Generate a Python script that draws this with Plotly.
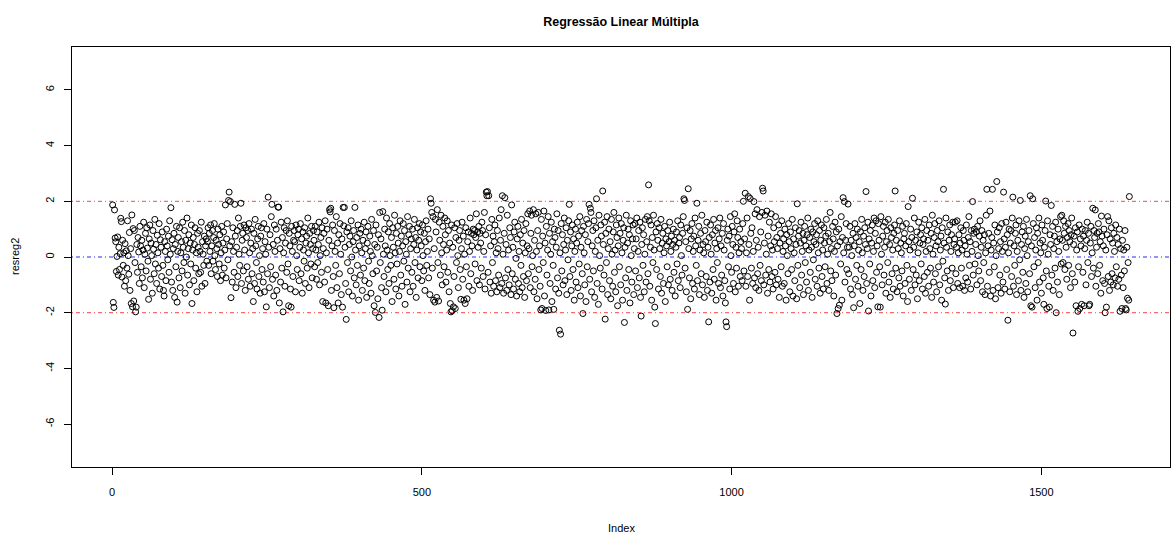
import plotly.graph_objects as go

# Residuos do modelo de regressao linear multipla (resreg2), por indice de observacao
resreg2_a = [
    1.87, -1.63, -1.81, 1.69, 0.68, 0.55, -0.52, 0.02, 0.72, -0.65, 0.35, -0.45, 0.12, 1.39, 1.27, -0.72, 0.60, -0.30, 0.15, -1.05,
    0.48, -0.85, 0.22, -0.40, 1.30, 0.05, -0.62, 0.88, -1.20, 0.30, -1.67, 1.51, -1.79, 1.02, -1.58, 0.95, -0.20, -1.97, -1.80, 0.45,
    -0.55, 0.70, 0.18, -0.95, 1.10, 0.40, -0.35, 0.60, -0.75, 0.25, 1.25, -1.10, 0.10, 0.85, -0.50, 1.05, 0.32, -0.15, -1.52, 0.65,
    1.15, -0.80, 0.50, 0.05, -1.30, 0.95, 0.28, -0.60, 1.35, -0.25, 0.45, -0.95, 0.78, 0.15, -0.40, 1.20, -1.15, 0.62, 0.35, -0.70,
    0.90, -0.30, -1.20, -1.40, 0.55, 0.20, -0.85, 1.00, 0.40, -0.10, 0.75, -0.55, 1.30, 0.10, 1.77, -0.90, 0.62, -1.20, 0.30, 0.85,
    -1.45, 0.45, -0.35, 1.10, -1.62, 0.20, 0.70, -0.75, 1.05, -1.10, 0.15, 0.55, -0.50, 1.25, 0.35, -0.20, 0.95, -1.30, 0.60, 0.00,
    1.40, -0.65, 0.30, 0.80, -1.00, 0.50, -0.25, 1.15, -1.67, 0.25, 0.70, -0.85, 0.45, 1.05, -0.40, 0.15, -1.25, 0.85, 0.35, -0.60,
    0.95, 0.20, -0.55, 1.25, -1.05, 0.55, 0.10, -0.30, 0.75, -0.95, 0.40, 0.65, -0.15,
]
resreg2_b = [
    0.55, 1.05, -0.30, 0.85, 0.20, 1.15, -0.60, 0.40, 0.95, -0.15, 0.70, 1.20, 0.05, -0.45, 0.60, 0.30, -0.70, 1.00, 0.45, -0.25,
    0.80, -0.85, 0.15, 1.10, -0.65, 0.50, 0.90, -0.40, 0.25, 1.87, -0.75, 0.65, 1.20, -0.10, 2.03, 2.33, 0.40, 1.99, -1.46, 0.55,
    -0.90, 1.05, 0.20, -0.55, 1.89, 0.75, -1.10, 0.35, 0.95, -0.70, 1.40, 0.10, -0.30, 1.10, 1.93, -0.95, 0.60, 0.85, -0.50, 1.15,
    0.25, -1.20, 1.05, 0.70, -0.35, 0.95, -0.80, 1.20, 0.15, -1.05, 0.50, 1.00, -0.60, 0.30, -1.60, 0.85, -0.95, 1.35, 0.40, -0.20,
    -1.15, 0.65, 1.10, -0.70, 0.05, -1.30, 0.75, 1.05, -0.45, 0.30, -0.90, 1.20, -1.25, 0.55, 0.10, -1.79, 1.00, -0.60, 2.15, 0.35,
    -1.10, 0.80, -0.35, 1.45, 1.89, -0.80, 0.45, -1.40, 1.15, 0.20, -0.65, 1.00, -1.20, 0.60, 1.79, 1.79, -1.65, 0.30, -0.90, 1.25,
    -0.40, 0.70, -1.97, 0.15, 1.05, -1.05, 0.50, 0.95, -0.55, 1.30, -0.25, -1.75, 0.85, 0.40, -1.15, -1.80, 1.10, 0.20, -0.70, 0.60,
    0.95, 0.55, -1.25, 1.15, 0.05, -0.45, 0.80, 1.00, -0.85, 0.35, 1.20, -0.60, 0.65, -1.30, 0.90, 0.25, -0.15, 1.05, -0.95, 0.50,
    0.75, -0.40, 1.40, 0.15, -1.10, 0.85, 0.45, -0.25, 1.10, -0.75, 0.30, 0.95,
]
resreg2_c = [
    0.60, -0.35, 1.10, 0.25, -0.80, 0.90, -0.20, 0.45, 1.25, -1.00, 0.05, 0.70, -0.55, 1.05, -1.60, 0.30, 0.85, -0.90, 1.30, -1.65,
    0.15, 1.00, -0.45, -1.75, 0.60, 1.70, 1.62, 1.75, -1.20, 0.40, 1.15, -0.70, -1.82, 0.95, 0.20, -0.30, 1.45, -1.10, 0.50, -1.65,
    0.80, -0.60, 1.20, 0.10, -1.35, 0.65, -1.80, 1.78, 1.12, 1.78, 0.35, -0.95, -2.24, 0.90, -0.20, 1.05, -1.25, 0.45, 0.75, -0.50,
    1.30, 0.00, -1.40, 0.55, 0.95, -0.75, 1.78, 0.25, -1.00, 0.70, -0.30, 1.15, -1.55, 0.40, 0.85, -0.65, 1.00, 0.15, -1.20, 0.60,
    -0.40, 1.25, -0.85, 0.30, 0.90, -1.45, 0.50, 1.10, -0.15, -0.95, 0.75, 0.20, -1.30, 1.35, 0.05, -0.60, 0.95, -1.75, 0.45, -1.99,
    1.15, -0.50, 0.35, -1.50, 0.80, -2.17, 1.60, -0.20, 0.65, -1.10, -1.91, 1.63, 0.10, -0.70, 1.00, 0.40, -1.25, 1.40, 0.25, -0.45,
    0.90, -0.95, 1.20, 0.05, -0.30, 0.70, -1.60, 1.05, 0.35, -0.80, 1.50, 0.15, -1.15, 0.85, -0.25, 1.10, 0.50, -1.40, 0.20, 1.30,
    -0.65, 0.75, -1.05, 0.40, 1.20, -0.15, 0.95, -1.70, 0.55, 0.10, -0.90, 1.45, -0.40, 0.80, 1.10, -1.25, 0.30, 0.65, -0.55, 1.00,
    -1.05, 0.45, 1.35, -0.20, 0.70, -1.45, 0.25, 1.05, -0.75, 0.60, 1.20, -0.35, 0.90,
]
resreg2_d = [
    0.40, -0.85, 1.15, 0.05, -0.50, 0.85, -1.20, 0.55, 1.30, -0.30, 0.20, 1.00, -0.75, 0.65, -1.35, 2.09, 1.93, 1.60, -0.40, 1.45,
    -1.55, 0.30, -1.62, 1.35, 0.90, -1.45, 1.70, -0.20, -1.58, 1.25, 0.60, -0.65, 1.50, 0.15, -1.00, 1.10, 0.45, -0.35, 1.40, 0.80,
    -0.90, 0.25, 1.30, -0.55, 0.95, -1.25, 0.50, -1.67, -1.97, 1.15, -1.93, 0.35, -1.79, -0.70, 1.05, -1.85, 0.70, -0.20, 1.20, 0.05,
    -1.10, 0.60, 0.95, -0.45, -1.52, 0.30, 1.25, -0.80, 0.75, -1.55, 0.10, -1.67, 1.05, -0.35, -1.50, 0.55, 0.90, -1.05, 0.20, 1.40,
    -0.60, 0.85, 0.40, -1.20, 1.00, 0.80, 0.95, -0.25, 0.70, 1.55, -0.85, 0.90, 0.35, 1.10, -1.00, 0.85, 0.50, -0.40, 1.25, 0.95,
    -0.70, 0.20, 1.60, -1.15, 0.80, 2.33, 2.20, 2.35, -0.55, 2.20, 1.05, -0.90, 0.40, -1.30, 1.35, -0.20, 0.75, -1.05, 0.55, 1.15,
    -0.85, 0.15, -1.25, 0.95, 0.30, -0.65, 1.40, -1.10, 0.60, 1.70, -0.95, 2.20, 0.10, -1.30, 0.85, 2.13, -0.75, 0.45, -1.20, 1.50,
    -0.45, 0.25, -1.00, 1.05, 0.70, -1.35, 1.87, -0.60, 0.35, -1.15, 0.90, 1.25, -0.80, -0.05, -1.40, 0.65, 1.10, -0.95, 0.20, -1.25,
    0.80, -0.30, 1.35, -1.10, 0.50, -0.70, 0.95, -1.45, 0.15, 1.20, -0.85, 0.40,
]
resreg2_e = [
    1.55, -0.60, 0.30, 1.65, -1.10, 0.85, 1.50, -0.35, 0.05, 1.70, -1.25, 0.60, -0.80, 1.55, 0.20, -1.50, 0.95, 1.60, -0.45, 0.40,
    -1.05, -1.90, 1.35, -1.85, 0.75, -0.20, 1.65, -1.40, 0.50, -1.92, 1.10, -0.65, 0.25, 1.45, -1.90, 0.85, -0.95, 0.10, 1.25, -1.60,
    0.55, -0.30, -1.88, 1.00, 0.70, -1.15, 0.35, 1.55, -0.75, 0.95, -1.30, -2.63, 0.15, -2.77, 1.20, -0.50, 0.80, -1.00, 0.45, 1.40,
    -0.85, 0.25, 1.05, -1.35, 0.60, -0.10, 1.30, 1.89, -0.70, 0.90, -1.20, 0.40, 1.15, -0.45, 0.65, -1.55, 0.20, 1.00, -0.90, 0.50,
    1.25, -1.10, 0.75, -0.25, 1.45, -1.40, 0.35, 0.95, -0.60, -2.03, 1.10, 0.15, -1.00, 0.80, -1.60, 1.35, -0.35, 0.55, 1.20, 1.89,
    -0.80, 1.75, 1.60, -1.25, 0.40, 0.95, -0.50, 1.30, -1.45, 0.20, 1.05, 2.09, -0.95, 0.60, -1.70, 1.50, 0.05, -0.40, 1.15, 0.75,
    -1.15, 2.37, 0.45, -0.65, 1.25, -2.23, 0.85, -0.20, 1.45, -1.35, 0.30, 1.00, -0.85, 0.55, -1.50, 1.35, 0.10, -1.05, 0.90, 1.60,
    -0.55, 0.25, -1.25, 1.15, 0.70, -1.75, 0.40, 1.40, -0.35, 0.85, -1.00, 1.20, 0.15, -1.55, 0.60, 1.05, -2.35, 0.35, -0.75, 1.50,
    -1.20, 0.50, 1.00, -0.45, 0.80, -1.65, 1.30, 0.05, -0.90, 0.65, 1.15, -1.35, 0.30,
]
resreg2_f = [
    1.20, -0.50, 0.65, 1.40, -1.10, 0.20, 0.95, -0.75, 1.25, -1.45, -2.12, 0.45, 1.05, -0.30, 0.80, -1.25, 0.10, 1.35, -0.90, 0.55,
    1.45, -0.60, 2.59, 1.30, -1.05, 0.35, 1.15, -1.55, 0.70, -0.20, 1.50, 0.25, -1.80, -2.39, 0.90, -0.45, 1.20, 0.60, -1.15, 1.05,
    0.30, -0.70, 1.35, -1.30, 0.50, 0.85, -0.95, 0.15, 1.10, -1.60, 0.65, 0.40, -0.35, 0.95, -1.00, 0.55, 1.25, -0.80, 0.20, 0.75,
    -1.20, 0.45, 1.00, -0.55, 0.60, -1.40, 0.35, 0.90, -0.25, 1.30, -0.85, 0.50, 0.70, -1.10, 1.15, 0.05, -0.65, 0.85, 1.45, 2.09,
    2.03, -0.40, 0.55, -1.25, 1.05, -1.88, 2.45, 0.30, -0.75, 0.95, -1.50, 0.65, 1.20, -0.95, 0.20, 0.75, -1.15, 1.40, 0.40, -0.30,
    1.93, -0.85, 0.60, 1.10, -1.35, 0.25, 0.85, -0.60, 1.50, -1.00, 0.45, 0.15, -1.45, 0.95, 0.55, -0.70, 1.25, -1.20, 0.35, -2.33,
    0.70, -0.90, 1.15, 0.10, -1.30, 0.80, -0.45, 1.35, -0.80, 0.50, 0.95, -1.55, 0.30, -0.20, 1.05, -0.95, 0.65, 1.40, -1.10, 0.40,
    -0.65, 0.85, -1.40, 1.20, 0.25, -0.85, -1.65, -2.33, -2.50, 0.60, 1.00, -0.35, 0.75, -1.15, 1.45, 0.05, -0.55, 1.10, 0.45, -0.95,
    0.90, 1.55, -1.25, 0.35, -0.40, 1.30, 0.70, -1.05, 0.15, 1.00, -0.70, 0.55,
]
resreg2_g = [
    0.30, -0.85, 1.20, 2.00, -0.50, 0.65, 2.29, -1.05, 0.15, 1.40, -0.70, 2.17, 0.45, -1.55, 2.10, 0.85, -0.40, 1.05, -0.95, 0.20,
    1.99, -0.75, 1.55, -1.10, 0.60, 1.70, -0.60, 0.35, -1.20, 1.45, -0.30, 0.90, -0.85, 1.60, 2.47, 2.37, -1.00, 0.50, 1.50, -0.65,
    0.10, 1.65, -1.30, 0.75, -0.45, 1.25, -0.90, 0.40, 1.55, -0.70, 0.25, -1.15, 1.05, 0.55, -0.55, 1.45, -1.00, 0.70, 0.30, -0.80,
    1.15, -1.45, 0.50, 0.85, -0.35, 1.30, -1.05, 0.20, 0.65, -0.95, 1.00, 0.40, -1.55, 0.80, 0.05, -0.60, 1.20, 0.55, -1.25, 0.90,
    0.30, -0.45, 1.35, -1.40, 0.65, 0.15, -0.85, 1.05, 0.45, -1.50, 1.91, -0.30, 0.75, 0.95, -1.10, 0.50, 1.25, -0.65, 0.20, 0.85,
    -1.35, 0.60, 1.10, -0.20, 0.40, -0.90, 0.80, 1.40, -1.20, 0.25, 0.70, -0.55, 1.00, 0.35, -1.45, 0.90, -0.10, 0.55, 1.20, -0.80,
    0.45, 0.80, -1.05, 1.30, 0.15, -0.40, 0.95, -1.30, 0.60, 1.15, -0.70, 0.25, -1.15, 1.05, 0.50, -0.35, 0.75, 1.35, -0.95, 0.10,
    0.85, -1.20, 0.55, 1.60, -0.50, 0.30, -0.85, 1.10, 0.65, -1.40, 0.20, 1.25, -0.65, 0.90, -2.03, 0.40, -1.85, 1.00, -1.73, 0.55,
    -0.25, 1.45, -1.55, 0.70, 2.13, 0.15, 1.99, -0.90, 0.60, 1.20, -0.45, 0.35,
]
resreg2_h = [
    1.90, -0.60, 0.35, 1.10, -1.15, 0.60, 0.05, -1.35, 0.85, -1.82, 0.40, 1.20, -0.80, 0.70, -0.30, 1.00, -1.05, 0.25, 0.55, -1.67,
    0.90, -0.45, 1.35, 0.15, -1.20, 0.75, -0.70, 1.05, 0.45, 2.35, -0.95, 0.30, 1.25, -1.94, 0.65, -0.25, 0.95, -1.40, 0.50, 1.15,
    -0.85, 0.20, 1.40, -1.10, 0.85, 1.30, -0.55, 0.40, -1.79, 1.20, 0.60, -0.35, -1.80, 1.45, 0.10, -1.00, 0.75, 1.10, -0.65, 0.35,
    1.25, -1.30, 0.55, 0.95, -0.20, 1.35, -0.90, 0.45, -1.45, 1.05, 0.70, -0.60, 0.25, -1.15, 0.85, 1.15, 2.37, -0.40, 0.60, -1.25,
    0.95, 0.30, -0.75, 1.30, -1.05, 0.50, 0.15, -0.50, 1.10, -1.40, 0.65, 0.85, -0.95, 0.40, 1.20, -0.30, -1.60, 1.81, 0.55, -0.80,
    0.25, 1.00, -1.20, 0.70, 2.11, -0.45, 0.35, 1.40, -1.00, 0.60, -0.65, 0.90, -1.50, 0.15, 1.25, -0.85, 0.50, 0.80, -0.25, 1.05,
    -1.15, 0.45, 0.65, -0.70, 1.35, -1.30, 0.20, 0.95, -0.55, 0.60, -1.05, 1.15, 0.30, -0.40, 0.85, -1.45, 1.50, 0.10, -0.90, 0.70,
    1.20, -0.60, 0.40, -1.25, 0.95, 0.55, -0.35, 1.30, -1.00, 0.25, 0.75, -1.55, 1.05, -0.15, 2.43, 0.50, -0.75, -1.69, 1.40, 0.35,
    -0.50, 0.90, -1.20, 0.60, 1.15, -0.85, 0.20, 0.80, -0.40, 1.25, -1.10, 0.45, 0.65,
]
resreg2_i = [
    1.25, -0.60, 0.35, 1.30, -0.95, 0.15, 0.80, -1.10, 0.50, 1.05, -0.40, 0.25, -1.05, 0.95, 0.60, -1.20, 0.40, -0.75, 1.15, 0.10,
    -0.90, 0.70, 1.45, -0.30, 0.55, -1.15, 0.95, 0.20, 1.99, -0.65, 0.85, 1.00, -0.25, 0.45, 0.90, -1.00, 1.10, 0.05, -0.50, 0.75,
    1.30, -0.85, 0.35, 0.95, -1.25, 0.60, -0.20, 0.80, -1.35, 0.15, 1.50, 2.43, -1.05, 0.40, 0.85, -0.55, 1.65, -1.40, 0.25, 0.70,
    2.43, -1.20, 0.50, -0.35, 1.15, -1.50, 0.05, 2.71, 0.90, -1.10, 0.30, 1.05, -0.65, 0.55, -1.30, 1.20, 0.20, -0.90, 2.33, 0.65,
    -1.15, 0.35, 1.25, -0.45, 0.80, -2.27, 0.15, 1.00, -1.25, 0.50, 0.95, -0.70, 1.40, 2.15, -1.05, 0.40, -0.30, 0.85, 1.15, -1.35,
    0.20, 0.60, -0.85, 1.30, -0.10, 2.03, -1.20, 0.45, 0.90, -0.55, 1.10, -1.45, 0.30, 0.75, -0.95, 1.35, 0.05, -1.25, 0.55, 0.95,
    -0.60, 2.20, -1.75, 0.40, -1.80, 2.09, 1.20, -0.35, 0.70, -1.10, 0.25, 1.05, -1.55, 0.85, -0.20, 1.40, -0.90, 0.50, 0.15, -1.30,
    1.15, 0.60, -0.75, -1.70, 0.35, 0.95, 2.01, -0.50, -1.85, 1.30, 0.10, -1.05, -1.80, 0.80, 0.45, 1.85, -0.65, 1.10, -1.20, 0.30,
    0.75, -0.40, 1.25, -2.00, 0.55, -0.90, 1.00, 0.20, -1.35, 0.65, 1.45, -0.25,
]
resreg2_j = [
    1.50, 0.60, -0.20, 1.30, 0.85, -0.45, 1.10, 0.35, -0.80, 0.70, 1.20, -0.30, 0.95, 0.55, -1.10, 0.80, 1.40, -0.60, -2.73, 0.45,
    0.75, -0.90, 1.05, -1.75, 0.25, 0.90, -1.95, -0.35, 1.15, -1.85, 0.65, 0.40, -1.70, 1.00, -0.55, 0.75, -1.75, 0.30, 0.95, -1.00,
    0.60, 1.25, -0.20, 0.85, -1.75, -1.70, 0.50, 1.10, -0.70, 0.15, 1.75, -0.40, 0.95, 0.70, 1.69, -1.05, 0.35, 0.85, -0.60, 1.20,
    0.90, -0.30, 0.55, -1.30, 1.47, 0.75, -0.85, 0.40, 1.00, -0.95, -2.00, 0.25, -1.80, 0.80, 1.45, -0.70, 1.30, -1.20, 0.65, -0.90,
    1.05, -0.60, 0.50, -1.00, 0.85, 0.20, -0.75, 1.15, -0.35, 0.70, -1.05, 0.45, -0.80, 1.00, -1.95, 0.30, -0.65, -1.85, 0.60, -1.10,
    0.25, -0.50, 0.95, -1.85, -1.90, 0.35, -1.48, -0.20, -1.55, 2.17,
]

resreg2 = (resreg2_a + resreg2_b + resreg2_c + resreg2_d + resreg2_e
           + resreg2_f + resreg2_g + resreg2_h + resreg2_i + resreg2_j)
index = list(range(1, len(resreg2) + 1))

x_ticks = [0, 500, 1000, 1500]
y_ticks = [-6, -4, -2, 0, 2, 4, 6]
limite = 2  # faixa de +/- 2 residuos padronizados

# eixo x com folga de 4% (como no R)
n = len(resreg2)
pad_x = 0.04 * (n - 1)
x_range = [1 - pad_x, n + pad_x]
y_range = [-7.54, 7.54]

FONT = "Liberation Sans, Arial, Helvetica, sans-serif"
TXT = dict(family=FONT, size=11, color="black")

fig = go.Figure()
fig.add_trace(go.Scatter(
    x=index, y=resreg2, mode="markers",
    marker=dict(symbol="circle-open", size=6, color="black", line=dict(width=1, color="black")),
    showlegend=False, hoverinfo="x+y",
))

dotdash = "1px,3px,4px,3px"
for yv, col in [(limite, "rgb(255,70,70)"), (-limite, "rgb(255,70,70)"), (0, "rgb(40,40,255)")]:
    fig.add_shape(type="line", xref="paper", x0=0, x1=1, yref="y", y0=yv, y1=yv,
                  line=dict(color=col, width=1, dash=dotdash), layer="below")

fig.update_layout(
    width=1171, height=541, autosize=False,
    margin=dict(l=72, r=1, t=47, b=74, pad=0),
    paper_bgcolor="white", plot_bgcolor="white",
    font=TXT,
    title=dict(text="<b>Regressão Linear Múltipla</b>", x=0.5303, xanchor="center",
               y=1 - 22 / 541, yanchor="middle",
               font=dict(family=FONT, size=12.5, color="black")),
    xaxis=dict(range=x_range, tickvals=x_ticks, ticktext=[str(v) for v in x_ticks],
               showgrid=False, zeroline=False, showline=True, mirror=True,
               linecolor="black", linewidth=1, ticks="outside", ticklen=7, tickcolor="black",
               ticklabelstandoff=8, tickfont=TXT),
    yaxis=dict(range=y_range, tickvals=y_ticks, ticktext=[str(v) for v in y_ticks],
               showgrid=False, zeroline=False, showline=True, mirror=True,
               linecolor="black", linewidth=1, ticks="outside", ticklen=7, tickcolor="black",
               tickangle=-90, ticklabelstandoff=6, tickfont=TXT),
    annotations=[
        dict(text="Index", xref="paper", yref="paper", x=0.5, y=0, xanchor="center", yanchor="middle",
             yshift=-61, showarrow=False, font=TXT),
        dict(text="resreg2", xref="paper", yref="paper", x=0, y=0.5, xanchor="center", yanchor="middle",
             xshift=-57, textangle=-90, showarrow=False, font=TXT),
    ],
)

fig.write_html("out.html")
